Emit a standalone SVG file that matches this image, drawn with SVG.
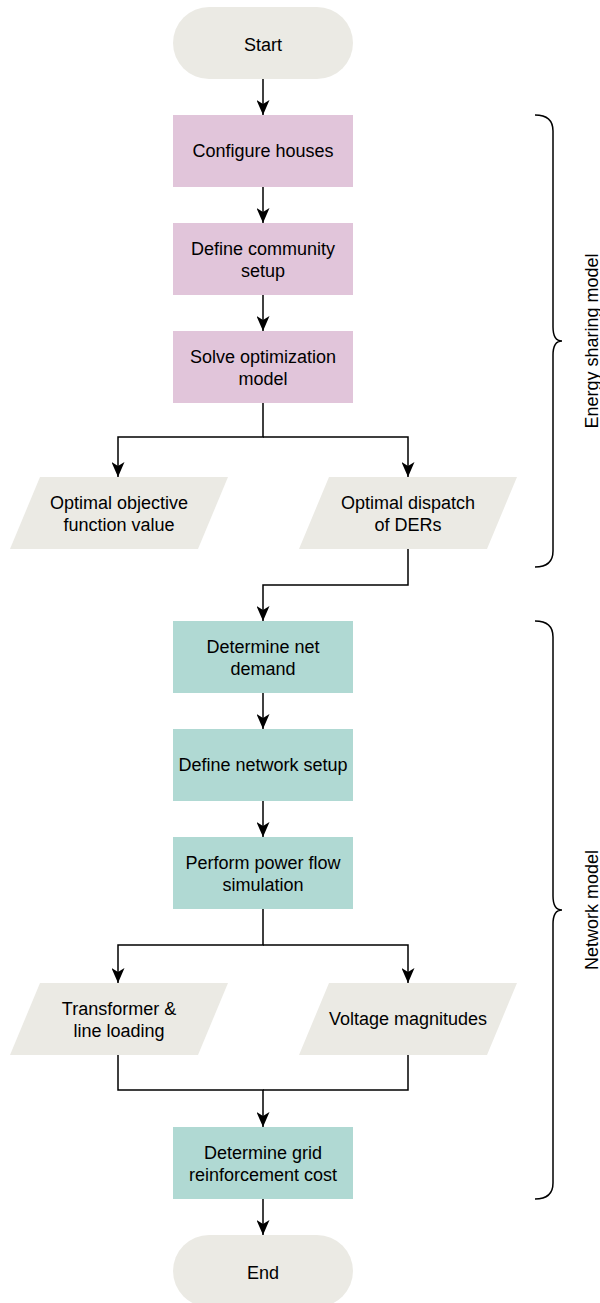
<svg xmlns="http://www.w3.org/2000/svg" width="600" height="1303" viewBox="0 0 600 1303">
<style>
.t{font-family:"Liberation Sans",Arial,sans-serif;font-size:18px;fill:#000;text-anchor:middle}
.pink{fill:#E1C5DA}
.teal{fill:#B0D9D3}
.gray{fill:#EBEAE4}
.c{fill:none;stroke:#000;stroke-width:1.5}
</style>
<defs>
<marker id="a" markerWidth="15" markerHeight="13" refX="15" refY="6.5" orient="auto" markerUnits="userSpaceOnUse" viewBox="0 0 15 13">
<path d="M0,0 L15,6.5 L0,13 L4,6.5 Z" fill="#000"/>
</marker>
</defs>
<g id="connectors">
<path class="c" d="M263,79 L263,115" marker-end="url(#a)"/>
<path class="c" d="M263,187 L263,223" marker-end="url(#a)"/>
<path class="c" d="M263,295 L263,331" marker-end="url(#a)"/>
<path class="c" d="M263,403 L263,437 L118,437 L118,477" marker-end="url(#a)"/>
<path class="c" d="M263,437 L408,437 L408,477" marker-end="url(#a)"/>
<path class="c" d="M408,549 L408,585 L263,585 L263,621" marker-end="url(#a)"/>
<path class="c" d="M263,693 L263,729" marker-end="url(#a)"/>
<path class="c" d="M263,801 L263,837" marker-end="url(#a)"/>
<path class="c" d="M263,909 L263,945 L118,945 L118,983" marker-end="url(#a)"/>
<path class="c" d="M263,945 L408,945 L408,983" marker-end="url(#a)"/>
<path class="c" d="M118,1055 L118,1090 L263,1090 L263,1127" marker-end="url(#a)"/>
<path class="c" d="M408,1055 L408,1090 L263,1090"/>
<path class="c" d="M263,1199 L263,1235" marker-end="url(#a)"/>
</g>
<g id="start">
<rect class="gray" x="173" y="7" width="180" height="72" rx="36"/>
<text class="t" x="263" y="51">Start</text>
</g>
<g id="configure">
<rect class="pink" x="173" y="115" width="180" height="72"/>
<text class="t" x="263" y="157">Configure houses</text>
</g>
<g id="community">
<rect class="pink" x="173" y="223" width="180" height="72"/>
<text class="t" x="263" y="255">Define community</text>
<text class="t" x="263" y="277">setup</text>
</g>
<g id="solve">
<rect class="pink" x="173" y="331" width="180" height="72"/>
<text class="t" x="263" y="363">Solve optimization</text>
<text class="t" x="263" y="385">model</text>
</g>
<g id="objective">
<polygon class="gray" points="40,477 228,477 198,549 10,549"/>
<text class="t" x="119" y="509">Optimal objective</text>
<text class="t" x="119" y="531">function value</text>
</g>
<g id="dispatch">
<polygon class="gray" points="329,477 517,477 487,549 299,549"/>
<text class="t" x="408" y="509">Optimal dispatch</text>
<text class="t" x="408" y="531">of DERs</text>
</g>
<g id="netdemand">
<rect class="teal" x="173" y="621" width="180" height="72"/>
<text class="t" x="263" y="653">Determine net</text>
<text class="t" x="263" y="675">demand</text>
</g>
<g id="network">
<rect class="teal" x="173" y="729" width="180" height="72"/>
<text class="t" x="263" y="771">Define network setup</text>
</g>
<g id="powerflow">
<rect class="teal" x="173" y="837" width="180" height="72"/>
<text class="t" x="263" y="869">Perform power flow</text>
<text class="t" x="263" y="891">simulation</text>
</g>
<g id="loading">
<polygon class="gray" points="40,983 228,983 198,1055 10,1055"/>
<text class="t" x="119" y="1015">Transformer &amp;</text>
<text class="t" x="119" y="1037">line loading</text>
</g>
<g id="voltage">
<polygon class="gray" points="329,983 517,983 487,1055 299,1055"/>
<text class="t" x="408" y="1025">Voltage magnitudes</text>
</g>
<g id="grid">
<rect class="teal" x="173" y="1127" width="180" height="72"/>
<text class="t" x="263" y="1159">Determine grid</text>
<text class="t" x="263" y="1181">reinforcement cost</text>
</g>
<g id="end">
<rect class="gray" x="173" y="1235" width="180" height="72" rx="36"/>
<text class="t" x="263" y="1279">End</text>
</g>
<g id="brace-energy">
<path class="c" d="M535,115 Q553,115 553,131 L553,327 Q553,341 562,341 Q553,341 553,355 L553,551 Q553,567 535,567"/>
<text class="t" transform="translate(598,341) rotate(-90)">Energy sharing model</text>
</g>
<g id="brace-network">
<path class="c" d="M535,621 Q553,621 553,637 L553,896 Q553,910 562,910 Q553,910 553,924 L553,1183 Q553,1199 535,1199"/>
<text class="t" transform="translate(598,910) rotate(-90)">Network model</text>
</g>
</svg>
